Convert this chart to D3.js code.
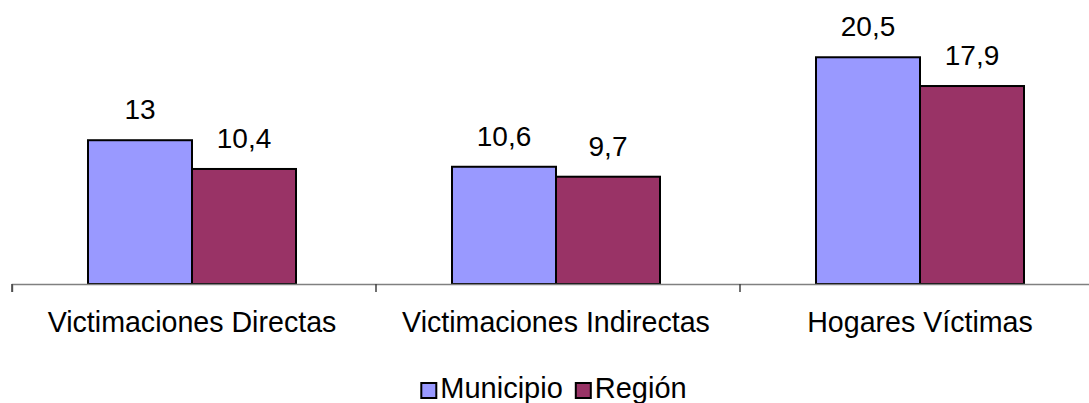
<!DOCTYPE html>
<html><head><meta charset="utf-8">
<script src="https://cdn.jsdelivr.net/npm/d3@7"></script>
<style>
html,body{margin:0;padding:0;background:#fff;}
svg{display:block;font-family:"Liberation Sans",Arial,sans-serif;}
</style></head>
<body>
<svg id="chart" width="1089" height="403"></svg>
<script>
const categories = ["Victimaciones Directas", "Victimaciones Indirectas", "Hogares Víctimas"];
const seriesNames = ["Municipio", "Región"];
const municipio = [13, 10.6, 20.5];
const region = [10.4, 9.7, 17.9];
const valueLabels = [["13", "10,6", "20,5"], ["10,4", "9,7", "17,9"]];
const colors = ["#9999FF", "#993366"];

const svg = d3.select("#chart");
const baseY = 284;
const x = d3.scaleBand().domain(categories).range([12, 1104]).padding(0);
const xs = d3.scaleBand().domain(seriesNames).range([0, x.bandwidth()]).paddingInner(0).paddingOuter(0.75);
const y = d3.scaleLinear().domain([0, 25]).range([baseY, baseY - 25 * 11.06]);
const shift = -2;

const data = [];
categories.forEach((c, i) => {
  [municipio, region].forEach((arr, s) => {
    data.push({cat: c, series: seriesNames[s], s, value: arr[i], label: valueLabels[s][i]});
  });
});

// bars
svg.append("g").selectAll("rect").data(data).join("rect")
  .attr("x", d => x(d.cat) + xs(d.series) + shift)
  .attr("y", d => y(d.value))
  .attr("width", xs.bandwidth())
  .attr("height", d => y(0) - y(d.value))
  .attr("fill", d => colors[d.s])
  .attr("stroke", "#000")
  .attr("stroke-width", 2);

// value labels
svg.append("g").selectAll("text").data(data).join("text")
  .attr("x", d => x(d.cat) + xs(d.series) + shift + xs.bandwidth() / 2)
  .attr("y", d => y(d.value) - 21)
  .attr("text-anchor", "middle")
  .attr("font-size", 28)
  .attr("fill", "#000")
  .text(d => d.label);

// axis
const axis = d3.axisBottom(x).tickSize(8).tickFormat("");
const ag = svg.append("g").attr("transform", `translate(0,${baseY})`).call(axis);
ag.select(".domain").attr("stroke", "#808080").attr("stroke-width", 1.5);
ag.selectAll(".tick").remove();
const tickPos = [12, ...categories.map(c => x(c) + x.bandwidth())];
ag.selectAll("line.tk").data(tickPos).join("line").attr("class", "tk")
  .attr("x1", d => d).attr("x2", d => d).attr("y1", 0).attr("y2", 8)
  .attr("stroke", "#404040").attr("stroke-width", 1.5);

// category labels
svg.append("g").selectAll("text").data(categories).join("text")
  .attr("x", c => x(c) + x.bandwidth() / 2 + shift)
  .attr("y", 332)
  .attr("text-anchor", "middle")
  .attr("font-size", 28.6)
  .attr("fill", "#000")
  .text(c => c);

// legend
const lg = svg.append("g");
const items = seriesNames.map((n, i) => {
  const g = lg.append("g");
  g.append("rect").attr("x", 0).attr("y", -15).attr("width", 15).attr("height", 15)
    .attr("fill", colors[i]).attr("stroke", "#000").attr("stroke-width", 2);
  const t = g.append("text").attr("x", 19).attr("y", 0).attr("font-size", 29).attr("fill", "#000").text(n);
  return {g, w: 19 + t.node().getComputedTextLength()};
});
const gap = 13;
const total = items.reduce((a, b) => a + b.w, 0) + gap;
let cx = 554 - total / 2;
items.forEach(it => { it.g.attr("transform", `translate(${cx},398)`); cx += it.w + gap; });
</script>
</body></html>
